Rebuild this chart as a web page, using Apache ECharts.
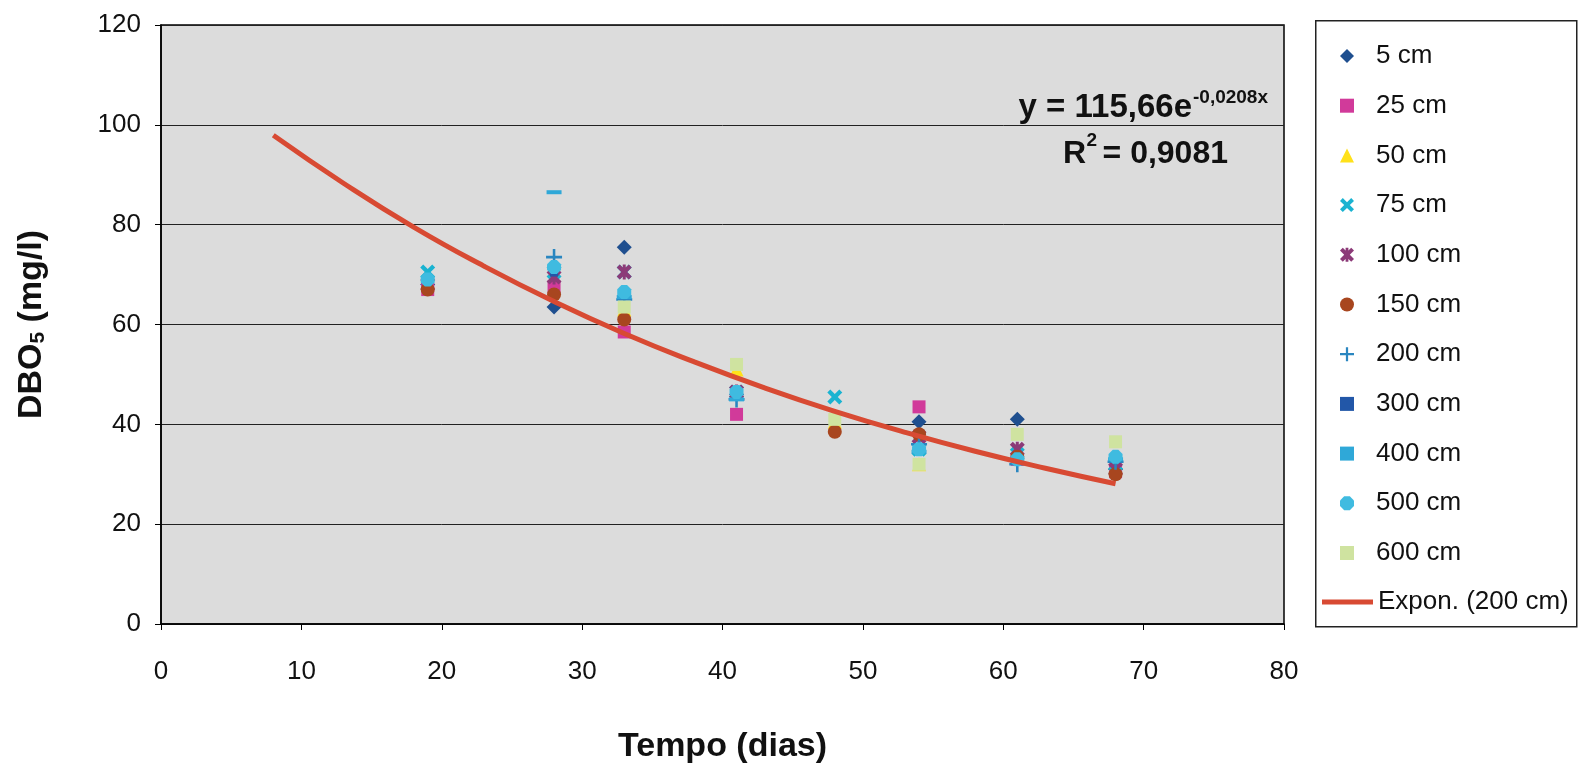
<!DOCTYPE html>
<html>
<head>
<meta charset="utf-8">
<script src="https://cdn.jsdelivr.net/npm/echarts@6/dist/echarts.min.js"></script>
<style>
html,body{margin:0;padding:0;background:#fff;}
#c{width:1583px;height:769px;}
</style>
</head>
<body>
<div id="c"></div>
<script>
// ---- data ----
const days = [19, 28, 33, 41, 48, 54, 61, 68];
const s5   = [68, 63.5, 75.5, 46, null, 40.5, 41, 31];
const s25  = [67, 67.5, 58.5, 42, null, 43.5, 33, 30.5];
const s50  = [null, null, 63, 51, 40.5, 32, null, null];
const s75  = [70.5, 70.5, 70.5, 46.5, 45.5, 35, 34, 32];
const s100 = [68, 69.5, 70.5, 46.5, null, 37.5, 35, 31];
const s150 = [67, 66, 61, null, 38.5, 38, 33.5, 30];
const s200 = [null, 73.5, 65, 45, null, 36, 32, 32.5];
const s300 = [null, 70, 66, 46, null, 35, null, 33];
const s400 = [null, 86.5, 65.5, 45, null, 34.5, null, 33];
const s500 = [69, 71.5, 66.5, 46.5, null, 35, 33, 33.5];
const s600 = [null, null, 63.5, 52, 41, 32, 38, 36.5];
const trendX = [8, 13, 18, 23, 28, 33, 38, 43, 48, 53, 58, 63, 68];
const trendY = [97.9, 88.3, 79.5, 71.7, 64.6, 58.2, 52.5, 47.3, 42.6, 38.4, 34.6, 31.2, 28.1];
const xTicks = [0, 10, 20, 30, 40, 50, 60, 70, 80];
const yTicks = [0, 20, 40, 60, 80, 100, 120];
const seriesNames = ['5 cm','25 cm','50 cm','75 cm','100 cm','150 cm','200 cm','300 cm','400 cm','500 cm','600 cm'];
const trendName = 'Expon. (200 cm)';

// ---- styling ----
const FONT = '"Liberation Sans", Arial, sans-serif';
const X_PATH = 'path://M0,2 L2,0 L5,3 L8,0 L10,2 L7,5 L10,8 L8,10 L5,7 L2,10 L0,8 L3,5 Z';
const AST_PATH = 'path://M0,2 L2,0 L5,3 L8,0 L10,2 L7,5 L10,8 L8,10 L5,7 L2,10 L0,8 L3,5 Z M4,0 L6,0 L6,10 L4,10 Z';
const PLUS_PATH = 'path://M4.2,0 L5.8,0 L5.8,4.2 L10,4.2 L10,5.8 L5.8,5.8 L5.8,10 L4.2,10 L4.2,5.8 L0,5.8 L0,4.2 L4.2,4.2 Z';
const OCT_PATH = 'path://M3,0 L7,0 L10,3 L10,7 L7,10 L3,10 L0,7 L0,3 Z';
const styles = [
  {sym:'diamond', size:15, color:'#1f4f8f'},
  {sym:'rect', size:13, color:'#d13a9a'},
  {sym:'triangle', size:14, color:'#ffe11a'},
  {sym:X_PATH, size:15, color:'#1ab3d1'},
  {sym:AST_PATH, size:15, color:'#8c3a78'},
  {sym:'circle', size:14, color:'#a8461f'},
  {sym:PLUS_PATH, size:16, color:'#2a86c0'},
  {sym:'rect', size:[8,4], color:'#2257a8'},
  {sym:'rect', size:[15,4], color:'#2fa8d8'},
  {sym:OCT_PATH, size:14, color:'#3fbbe0'},
  {sym:'rect', size:13, color:'#cfe3a0'}
];
const values = [s5, s25, s50, s75, s100, s150, s200, s300, s400, s500, s600];

const series = values.map((arr, i) => ({
  name: seriesNames[i],
  type: 'scatter',
  symbol: styles[i].sym,
  symbolSize: styles[i].size,
  symbolKeepAspect: true,
  itemStyle: {color: styles[i].color, opacity: 1},
  data: days.map((d, j) => arr[j] == null ? null : [d, arr[j]]).filter(p => p),
  z: 3
}));
series.push({
  name: trendName,
  type: 'line',
  smooth: true,
  symbol: 'none',
  lineStyle: {color: '#d84a33', width: 5},
  itemStyle: {color: '#d84a33'},
  data: trendX.map((x, i) => [x, trendY[i]]),
  z: 4
});

const chart = echarts.init(document.getElementById('c'));
chart.setOption({
  animation: false,
  backgroundColor: '#ffffff',
  textStyle: {fontFamily: FONT},
  grid: {
    left: 161, top: 25, width: 1123, height: 601,
    show: true, backgroundColor: '#dcdcdc', borderColor: '#000', borderWidth: 1.5
  },
  xAxis: {
    type: 'value', min: 0, max: 80, interval: 10,
    name: 'Tempo (dias)', nameLocation: 'middle', nameGap: 106,
    nameTextStyle: {fontSize: 34, fontWeight: 'bold', color: '#111', fontFamily: FONT},
    axisLine: {lineStyle: {color: '#000', width: 1.5}},
    axisTick: {show: true, length: 6, lineStyle: {color: '#000'}},
    axisLabel: {fontSize: 26, color: '#111', margin: 35, fontFamily: FONT,
      formatter: v => xTicks.includes(v) ? String(v) : ''},
    splitLine: {show: false}
  },
  yAxis: {
    type: 'value', min: 0, max: 120, interval: 20,
    name: '{a|DBO}{s|5}{a| (mg/l)}', nameLocation: 'middle', nameGap: 112,
    nameTextStyle: {
      color: '#111',
      rich: {
        a: {fontSize: 34, fontWeight: 'bold', fontFamily: FONT, color: '#111'},
        s: {fontSize: 21, fontWeight: 'bold', fontFamily: FONT, color: '#111', verticalAlign: 'bottom', padding: [14, 0, 0, 0]}
      }
    },
    axisLine: {show: true, lineStyle: {color: '#000', width: 1.5}},
    axisTick: {show: true, length: 6, lineStyle: {color: '#000'}},
    axisLabel: {fontSize: 26, color: '#111', margin: 20, fontFamily: FONT,
      formatter: v => yTicks.includes(v) ? String(v) : ''},
    splitLine: {show: true, lineStyle: {color: '#222', width: 1}}
  },
  legend: [
    {
      data: seriesNames,
      orient: 'vertical', left: 1335, top: 38,
      itemWidth: 14, itemHeight: 14, itemGap: 23.7,
      textStyle: {fontSize: 26, color: '#111', fontFamily: FONT, padding: [0, 0, 0, 17]},
      selectedMode: false
    },
    {
      data: [{name: trendName, icon: 'rect'}],
      orient: 'vertical', left: 1317, top: 584,
      itemWidth: 51, itemHeight: 5,
      textStyle: {fontSize: 26, color: '#111', fontFamily: FONT},
      selectedMode: false
    }
  ],
  graphic: [
    {type: 'rect', left: 1315, top: 20, z: -1,
      shape: {width: 261, height: 606},
      style: {fill: '#fff', stroke: '#222', lineWidth: 1.5}},
    {type: 'text', z: 10, style: {x: 1192, y: 108, text: 'y = 115,66e', textAlign: 'right', textVerticalAlign: 'middle',
      font: 'bold 33px ' + FONT, fill: '#111'}},
    {type: 'text', z: 10, style: {x: 1193, y: 98, text: '-0,0208x', textAlign: 'left', textVerticalAlign: 'middle',
      font: 'bold 19px ' + FONT, fill: '#111'}},
    {type: 'text', z: 10, style: {x: 1228, y: 154, text: '= 0,9081', textAlign: 'right', textVerticalAlign: 'middle',
      font: 'bold 32px ' + FONT, fill: '#111'}},
    {type: 'text', z: 10, style: {x: 1097, y: 141, text: '2', textAlign: 'right', textVerticalAlign: 'middle',
      font: 'bold 19px ' + FONT, fill: '#111'}},
    {type: 'text', z: 10, style: {x: 1086, y: 154, text: 'R', textAlign: 'right', textVerticalAlign: 'middle',
      font: 'bold 32px ' + FONT, fill: '#111'}}
  ],
  series: series
});
</script>
</body>
</html>
